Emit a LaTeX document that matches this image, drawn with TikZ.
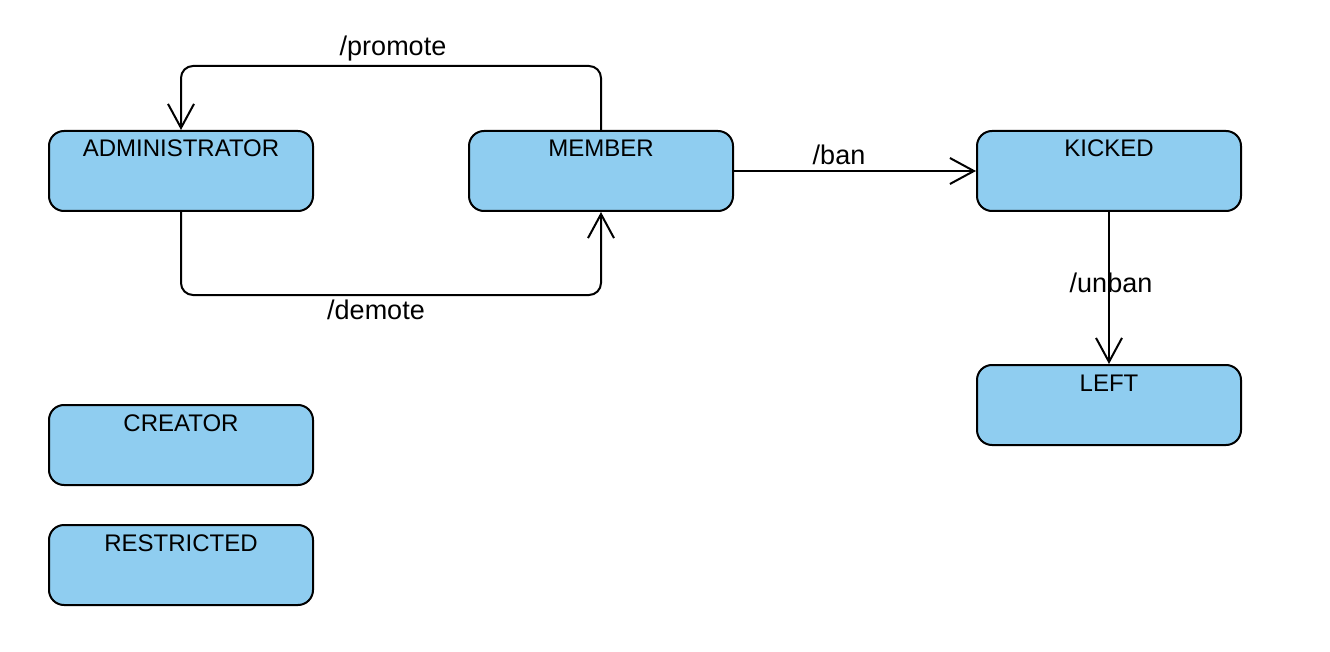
\documentclass[tikz,border=0pt]{standalone}
\usepackage{fontspec}
\setmainfont{Liberation Sans}
\usetikzlibrary{arrows.meta}
\definecolor{statefill}{RGB}{143,205,240}
\tikzset{
  statebox/.style={draw=black, line width=2pt, fill=statefill, rounded corners=15pt,
    minimum width=264pt, inner sep=0pt, text height=26pt, text depth=54pt,
    font=\fontsize{24}{24}\selectfont},
  edge/.style={draw=black, line width=2pt, rounded corners=12pt,
    -{Straight Barb[length=24pt, width=26pt, line width=2pt]}},
  elabel/.style={font=\fontsize{27}{27}\selectfont, inner sep=0pt}
}
\begin{document}
\begin{tikzpicture}[x=1pt, y=-1pt]
\useasboundingbox (0,0) rectangle (1330,652);
\node[statebox] (adm) at (181,171) {ADMINISTRATOR};
\node[statebox] (mem) at (601,171) {MEMBER};
\node[statebox] (kick) at (1109,171) {KICKED};
\node[statebox] (left) at (1109,405) {LEFT};
\node[statebox] (cre) at (181,445) {CREATOR};
\node[statebox] (res) at (181,565) {RESTRICTED};
\draw[edge] (mem.north) -- ++(0,-64) -| (adm.north)
  node[elabel, pos=0.25, xshift=2pt, yshift=17pt] (lprom) {/promote};
\draw[edge] (adm.south) -- ++(0,83) -| (mem.south)
  node[elabel, pos=0.25, xshift=-15pt, yshift=-15pt] (ldem) {/demote};
\draw[edge] (mem.east) -- (kick.west)
  node[elabel, midway, xshift=-16pt, yshift=16pt] (lban) {/ban};
\draw[edge] (kick.south) -- (left.north)
  node[elabel, midway, xshift=2pt, yshift=5pt] (lunban) {/unban};
\end{tikzpicture}
\end{document}
